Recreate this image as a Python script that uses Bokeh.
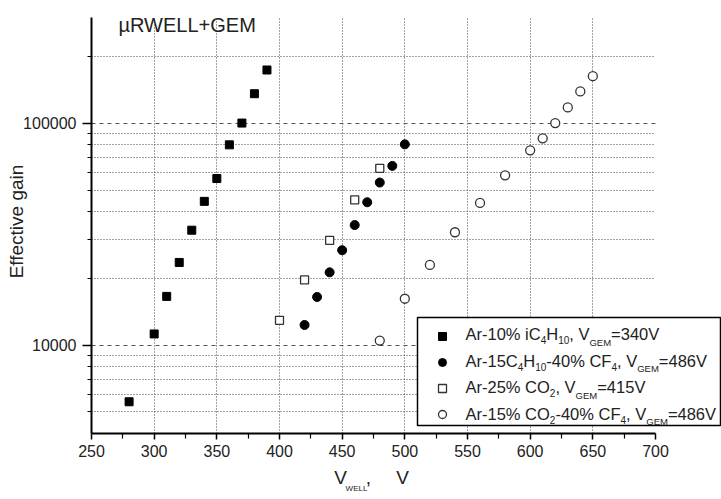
import math
from bokeh.plotting import figure
from bokeh.models import (Range1d, FixedTicker, NumeralTickFormatter, Label,
                          Legend, LegendItem, LinearAxis, BoxAnnotation)
from bokeh.embed import file_html
from bokeh.resources import INLINE

# ---------------- data ----------------
x_iso = [280, 300, 310, 320, 330, 340, 350, 360, 370, 380, 390]
g_iso = [5560, 11240, 16600, 23600, 33000, 44500, 56400, 80000, 100300, 136000, 174000]

x_c4cf4 = [420, 430, 440, 450, 460, 470, 480, 490, 500]
g_c4cf4 = [12340, 16500, 21300, 26800, 34800, 44100, 54100, 64300, 80400]

x_co2 = [400, 420, 440, 460, 480]
g_co2 = [12950, 19700, 29700, 45200, 62700]

x_co2cf4 = [480, 500, 520, 540, 560, 580, 600, 610, 620, 630, 640, 650]
g_co2cf4 = [10490, 16200, 23000, 32300, 43800, 58300, 75600, 85600, 100300, 118000, 139300, 163200]

x_ticks = [250, 300, 350, 400, 450, 500, 550, 600, 650, 700]
x_minor_ticks = [275, 325, 375, 425, 475, 525, 575, 625, 675]
y_ticks = [10000, 100000]
y_minor_ticks = [5000, 6000, 7000, 8000, 9000,
                 20000, 30000, 40000, 50000, 60000, 70000, 80000, 90000,
                 200000]
y_min, y_max = 4000, 300000

title_text = "µRWELL+GEM"
y_label_text = "Effective gain"
# legend entries: (text, kind) with kind n = normal, d = digit subscript, g = letter subscript
legend_entries = [
    [("Ar-10% iC", "n"), ("4", "d"), ("H", "n"), ("10", "d"), (", V", "n"), ("GEM", "g"), ("=340V", "n")],
    [("Ar-15C", "n"), ("4", "d"), ("H", "n"), ("10", "d"), ("-40% CF", "n"), ("4", "d"),
     (", V", "n"), ("GEM", "g"), ("=486V", "n")],
    [("Ar-25% CO", "n"), ("2", "d"), (", V", "n"), ("GEM", "g"), ("=415V", "n")],
    [("Ar-15% CO", "n"), ("2", "d"), ("-40% CF", "n"), ("4", "d"), (", V", "n"), ("GEM", "g"), ("=486V", "n")],
]
# x axis title "V_WELL, V": main-size pieces and subscript piece
x_label_main = ["V", ",", "V"]
x_label_sub = ["WELL"]

# ---------------- layout (pixels) ----------------
W, H = 721, 499
FL, FB = 91, 433                  # frame left / bottom
AT = 17                           # pixel of the y axis top (y = 300000)
FT = 9                            # frame top (a little room for the title)
X700 = 655                        # pixel of x = 700 (axis end)
FONT = "Liberation Sans"
TXT = "#222222"

px_per_unit = (X700 - FL) / (x_ticks[-1] - x_ticks[0])
def px_to_x(px):
    return x_ticks[0] + (px - FL) / px_per_unit
def py_to_y(py):
    lo, hi = math.log10(y_min), math.log10(y_max)
    return 10 ** (lo + (FB - py) / (FB - AT) * (hi - lo))

p = figure(width=W, height=H, output_backend="svg", toolbar_location=None,
           x_range=Range1d(x_ticks[0], px_to_x(W)),
           y_range=Range1d(y_min, py_to_y(FT)),
           y_axis_type="log",
           min_border_left=FL, min_border_right=0,
           min_border_top=FT, min_border_bottom=H - FB)
p.outline_line_color = None
p.background_fill_color = "white"
p.border_fill_color = "white"

# main axes
for ax in (p.xaxis[0], p.yaxis[0]):
    ax.axis_line_color = "black"
    ax.axis_line_width = 2
    ax.major_tick_line_color = "black"
    ax.major_tick_line_width = 1.5
    ax.minor_tick_line_color = "black"
    ax.minor_tick_line_width = 1.2
    ax.major_tick_in = 0
    ax.minor_tick_in = 0
    ax.major_label_text_font = FONT
    ax.major_label_text_font_size = "16px"
    ax.major_label_text_color = TXT

p.xaxis.ticker = FixedTicker(ticks=x_ticks, minor_ticks=x_minor_ticks)
p.xaxis.bounds = (x_ticks[0], x_ticks[-1])
p.xaxis.major_tick_out = 6
p.xaxis.minor_tick_out = 5
p.xaxis.major_label_standoff = 5

p.yaxis.ticker = FixedTicker(ticks=y_ticks, minor_ticks=y_minor_ticks)
p.yaxis.bounds = (y_min, y_max)
p.yaxis.formatter = NumeralTickFormatter(format="0")
p.yaxis.major_tick_out = 9
p.yaxis.minor_tick_out = 4
p.yaxis.major_label_standoff = 6
p.yaxis.axis_label = y_label_text
p.yaxis.axis_label_text_font = FONT
p.yaxis.axis_label_text_font_size = "19px"
p.yaxis.axis_label_text_font_style = "normal"
p.yaxis.axis_label_text_color = TXT
p.yaxis.axis_label_standoff = -7

# x axis title pieces carried by label-only axes stacked below the main axis
def text_axis(positions_px, labels, size, standoff):
    ticks = [round(px_to_x(v), 3) for v in positions_px]
    ax = LinearAxis(ticker=FixedTicker(ticks=ticks, minor_ticks=[]),
                    major_label_overrides={t: s for t, s in zip(ticks, labels)},
                    axis_line_color=None, major_tick_line_color=None,
                    minor_tick_line_color=None, major_tick_in=0, major_tick_out=0,
                    minor_tick_in=0, minor_tick_out=0,
                    major_label_standoff=standoff,
                    major_label_text_font=FONT,
                    major_label_text_font_size=f"{size}px",
                    major_label_text_color=TXT)
    p.add_layout(ax, "below")

text_axis([340, 368, 402], x_label_main, 19, 7)
text_axis([356], x_label_sub, 8, -7)

# grids
p.xgrid.ticker = FixedTicker(ticks=x_ticks[1:-1])
p.xgrid.grid_line_color = "#444444"
p.xgrid.grid_line_dash = "1 2"
p.xgrid.grid_line_width = 1
p.ygrid.grid_line_color = "#555555"
p.ygrid.grid_line_dash = "4 4"
p.ygrid.grid_line_width = 1
p.ygrid.minor_grid_line_color = "#444444"
p.ygrid.minor_grid_line_dash = "1 2"
p.ygrid.minor_grid_line_width = 1
try:
    p.ygrid.cross_bounds = (x_ticks[0], x_ticks[-1])
    p.xgrid.cross_bounds = (y_min, y_max)
except Exception:
    p.add_layout(BoxAnnotation(left=x_ticks[-1], fill_color="white", fill_alpha=1,
                               line_color=None, level="underlay"))
    p.add_layout(BoxAnnotation(bottom=y_max, fill_color="white", fill_alpha=1,
                               line_color=None, level="underlay"))

# legend frame (white box hiding the grid behind it)
LEG_L, LEG_R, LEG_T, LEG_B = 417, 720, 317, 425
p.add_layout(BoxAnnotation(left=px_to_x(LEG_L), right=px_to_x(LEG_R),
                           top=py_to_y(LEG_T), bottom=py_to_y(LEG_B),
                           fill_color="white", fill_alpha=1.0,
                           line_color="black", line_width=1.5, line_alpha=1.0,
                           level="underlay"))

# data
r1 = p.scatter(x_iso, g_iso, marker="square", size=8,
               fill_color="black", line_color="black")
r2 = p.scatter(x_c4cf4, g_c4cf4, marker="circle", size=9,
               fill_color="black", line_color="black")
r3 = p.scatter(x_co2, g_co2, marker="square", size=8,
               fill_color="white", line_color="#333333", line_width=1.3)
r4 = p.scatter(x_co2cf4, g_co2cf4, marker="circle", size=9,
               fill_color="white", line_color="#333333", line_width=1.3)

# legend markers (transparent legend, texts drawn separately for subscripts)
legend = Legend(items=[LegendItem(label=" ", renderers=[r]) for r in (r1, r2, r3, r4)],
                location=(LEG_L - FL + 5, FB - 424),
                glyph_width=40, glyph_height=20, label_height=20, label_width=245,
                label_standoff=3, spacing=6, padding=5, margin=0,
                border_line_color=None, background_fill_alpha=0.0,
                label_text_font_size="12px")
p.add_layout(legend)

# text helpers (Arial / Liberation Sans advance widths, per 1000 em)
ADV = {" ": 278, "%": 889, ",": 278, "-": 333, "=": 584, "+": 584,
       "A": 667, "C": 722, "E": 667, "F": 611, "G": 778, "H": 722, "L": 556,
       "M": 833, "O": 778, "V": 667, "W": 944, "R": 722, "i": 222, "r": 333}
def text_width(s, size):
    return sum(ADV.get(c, 556) for c in s) * size / 1000.0

def put(xc, baseline, text, size):
    ym = baseline - 0.18 * size
    p.add_layout(Label(x=xc - FL, y=FB - ym, x_units="screen", y_units="screen",
                       text=text, text_font=FONT, text_font_size=f"{size}px",
                       text_color=TXT, text_align="left", text_baseline="middle"))

SIZES = {"n": 16.5, "d": 10, "g": 9.5}
DROP = {"n": 0, "d": 5, "g": 7}
row_baselines = [336.5, 363, 389.5, 416]
for parts, base in zip(legend_entries, row_baselines):
    x = 465
    for s, kind in parts:
        put(x, base + DROP[kind], s, SIZES[kind])
        x += text_width(s, SIZES[kind])

# title inside the frame
put(118, 28.5, title_text, 20)

open("out.html", "w").write(file_html(p, INLINE))
